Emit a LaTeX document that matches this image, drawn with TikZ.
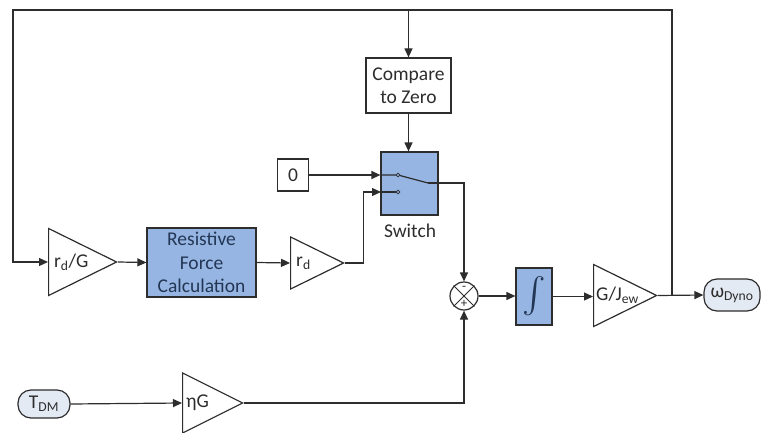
\documentclass[tikz,border=0pt]{standalone}
\usepackage{fontspec}
\setmainfont{Carlito}
\usetikzlibrary{shapes.geometric, arrows.meta, calc}
\definecolor{blkfill}{RGB}{150,181,226}
\definecolor{portfill}{RGB}{228,234,244}
\definecolor{edge}{RGB}{45,45,45}
\definecolor{blktext}{RGB}{35,55,85}
\tikzstyle{wire} = [line width=1.2pt,draw=edge]
\tikzstyle{arrow} = [wire,-{Triangle[length=9pt,width=8pt]}]
\tikzstyle{plain} = [draw=edge,line width=1.2pt,fill=white,align=center,inner sep=0pt]
\tikzstyle{blk} = [draw=edge,line width=1.2pt,fill=blkfill,text=blktext,align=center,inner sep=0pt]
\tikzstyle{gain} = [draw=edge,line width=1.2pt,isosceles triangle,isosceles triangle stretches,inner sep=0pt,anchor=west]
\tikzstyle{port} = [draw=edge,line width=1.2pt,fill=portfill,rounded corners=13pt,inner sep=0pt]

\begin{document}
\begin{tikzpicture}[x=1pt,y=1pt,yscale=-1,font=\fontsize{19.5}{23.5}\selectfont,text=edge]
\useasboundingbox (0,0) rectangle (762,433);

% Blocks
\node[plain, minimum width=85pt, minimum height=55pt] (cmp) at (408.5,85.5) {Compare\\to Zero};
\node[plain, minimum width=31pt, minimum height=32pt] (zero) at (293,175) {0};
\node[blk, minimum width=57pt, minimum height=63pt] (sw) at (409.5,183.5) {};
\node (swlbl) at (410,231) {Switch};
\node[blk, minimum width=109pt, minimum height=69pt] (rfc) at (201.5,262.5) {Resistive\\Force\\Calculation};
\node[blk, minimum width=36pt, minimum height=57pt] (intg) at (534,296.5) {\resizebox{!}{38pt}{$\int$}};
\node[draw=edge, circle, line width=1.2pt, minimum size=28pt, inner sep=0pt] (sum) at (464,296) {};

% Gains
\node[gain, minimum width=67pt, minimum height=68pt] (rdG) at (48,262) {};
\node[anchor=west, inner sep=0pt] (rdGt) at ([xshift=6pt]rdG.west) {r\textsubscript{d}/G};
\node[gain, minimum width=52pt, minimum height=53pt] (rd) at (290,263) {};
\node[anchor=west, inner sep=0pt] (rdt) at ([xshift=6pt]rd.west) {r\textsubscript{d}};
\node[gain, minimum width=62pt, minimum height=63pt] (gJ) at (593,295.5) {};
\node[anchor=west, inner sep=0pt] (gJt) at ([xshift=3pt]gJ.west) {G/J\textsubscript{ew}};
\node[gain, minimum width=60pt, minimum height=60pt] (eG) at (182,403) {};
\node[anchor=west, inner sep=0pt] (eGt) at ([xshift=4pt]eG.west) {ηG};

% Ports
\node[port, minimum width=56pt, minimum height=32pt] (wdy) at (732,295) {ω\textsubscript{Dyno}};
\node[port, minimum width=52pt, minimum height=28pt] (tdm) at (44,404) {T\textsubscript{DM}};

% Sum signs
\draw[wire, line width=0.9pt] (sum.north west) -- (sum.south east) (sum.north east) -- (sum.south west);
\node[inner sep=0pt, font=\fontsize{13}{13}\selectfont] (sgnm) at ($(sum.center)+(0,-8)$) {-};
\node[inner sep=0pt, font=\fontsize{13}{13}\selectfont] (sgnp) at ($(sum.center)+(0,8)$) {+};

% Switch contacts
\coordinate (top) at (0,10);
\coordinate (lc) at (13,10);
\coordinate (fb) at (672,295);
\coordinate (swin1) at (sw.west |- zero.east);
\coordinate (swin2) at (381,192);
\coordinate (c1) at (398,175);
\coordinate (c2) at (398,192);
\coordinate (piv) at (428,183);
\draw[wire] (swin1) -- (c1) -- (piv);
\draw[wire] (swin2) -- (c2);
\draw[line width=0.7pt, draw=edge, fill=blkfill] (c1) circle (1.9) (c2) circle (1.9);

% Connections
\draw[arrow] (gJ.east) -- (wdy.west);
\draw[arrow] (fb) |- (lc) |- (rdG.west);
\draw[arrow] (cmp.north |- top) -- (cmp.north);
\draw[arrow] (cmp.south) -- (cmp.south |- sw.north);
\draw[arrow] (rdG.east) -- (rfc.west);
\draw[arrow] (rfc.east) -- (rd.west);
\draw[arrow] (zero.east) -- (swin1);
\draw[arrow] (rd.east) -- ++(18,0) |- (swin2);
\draw[arrow] (piv) -| (sum.north);
\draw[arrow] (sum.east) -- (sum.east -| intg.west);
\draw[arrow] (intg.east) -- (intg.east -| gJ.west);
\draw[arrow] (tdm.east) -- (eG.west);
\draw[arrow] (eG.east) -| (sum.south);

\end{tikzpicture}
\end{document}
